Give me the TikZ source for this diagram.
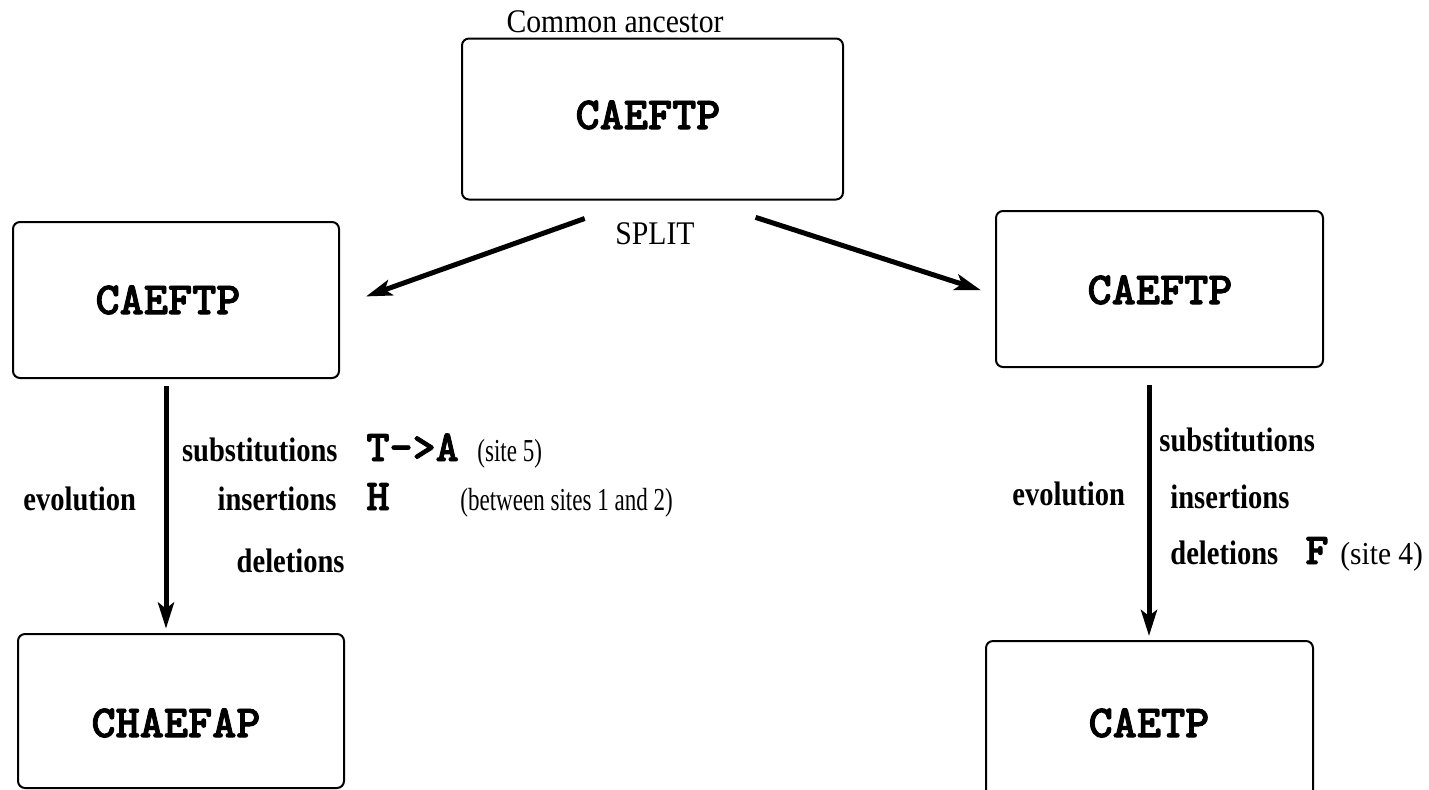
\documentclass[tikz,border=0pt]{standalone}
\usepackage{fontspec}
\setmainfont{Liberation Serif}
\newfontfamily\capfont[FakeStretch=0.9]{Liberation Serif}
\newfontfamily\labfont[FakeStretch=0.84]{Liberation Serif}
\newfontfamily\parfont[FakeStretch=0.72]{Liberation Serif}
\newfontfamily\parwide[FakeStretch=0.92]{Liberation Serif}
\newfontfamily\seqfont[FakeBold=2]{lmmonolt10-bold.otf}
\usetikzlibrary{arrows.meta}
\tikzset{
  box/.style={draw, rounded corners=3.5pt, line width=1pt, inner sep=0pt},
  seqtext/.style={font=\seqfont\fontsize{23}{26}\selectfont, inner sep=0pt},
  seqsmall/.style={font=\seqfont\fontsize{22}{26}\selectfont, inner sep=0pt},
  captext/.style={font=\capfont\fontsize{16.5}{20}\selectfont, inner sep=0pt},
  labtext/.style={font=\labfont\bfseries\fontsize{17}{20}\selectfont, inner sep=0pt},
  partext/.style={font=\parfont\fontsize{16}{20}\selectfont, inner sep=0pt},
  parwtext/.style={font=\parwide\fontsize{16}{20}\selectfont, inner sep=0pt},
  arr/.style={-{Stealth[length=13pt,width=8pt,inset=3pt]}, line width=2.5pt}
}
\begin{document}
\begin{tikzpicture}[x=0.5pt,y=-0.5pt]
\useasboundingbox (0,0) rectangle (1429,789);
% boxes
\node[box, minimum width=190.5pt, minimum height=80.5pt] (top) at (652.5,119) {};
\node[box, minimum width=163pt, minimum height=78pt] (left) at (176,300) {};
\node[box, minimum width=163.5pt, minimum height=78pt] (right) at (1159.5,289) {};
\node[box, minimum width=163pt, minimum height=77pt] (bl) at (181,711) {};
\node[box, minimum width=163.5pt, minimum height=78pt] (br) at (1149.5,719) {};
% box texts
\node[seqtext] (ttop) at (648,115) {CAEFTP};
\node[seqtext] (tleft) at (168,300) {CAEFTP};
\node[seqtext] (tright) at (1160,290) {CAEFTP};
\node[seqtext] (tbl) at (176,723) {CHAEFAP};
\node[seqtext] (tbr) at (1149,723) {CAETP};
% captions
\node[captext] (ca) at (615,22) {Common ancestor};
\node[captext] (split) at (655,234) {SPLIT};
% connectors
\draw[arr, shorten <=26.8pt, shorten >=13.8pt] (top.-102) -- (left.-2);
\draw[arr, shorten <=27.4pt, shorten >=7.4pt] (top.-58) -- (right.182);
\draw[arr, shorten <=3.5pt, shorten >=2.2pt] ([xshift=-5pt]left.south) -- ([xshift=-7.5pt]bl.north);
\draw[arr, shorten <=8.5pt, shorten >=2pt] ([xshift=-5.25pt]right.south) -- ([xshift=-0.25pt]br.north);
% left labels
\node[labtext, anchor=base west] (evl) at (23,510) {evolution};
\node[labtext, anchor=base east] (subl) at (338,461) {substitutions};
\node[labtext, anchor=base east] (insl) at (337,510) {insertions};
\node[labtext, anchor=base east] (dell) at (345,572) {deletions};
\node[seqsmall, anchor=base west] (ta) at (366,461) {T->A};
\node[partext, anchor=base west] (s5) at (477,461) {(site 5)};
\node[seqsmall, anchor=base west] (hh) at (366,510) {H};
\node[partext, anchor=base west] (btw) at (460,510) {(between sites 1 and 2)};
% right labels
\node[labtext, anchor=base west] (evr) at (1012,505) {evolution};
\node[labtext, anchor=base west] (subr) at (1159,451) {substitutions};
\node[labtext, anchor=base west] (insr) at (1170,508) {insertions};
\node[labtext, anchor=base west] (delr) at (1170,564) {deletions};
\node[seqsmall, anchor=base west] (ff) at (1305,564) {F};
\node[parwtext, anchor=base west] (s4) at (1340,564) {(site 4)};
\end{tikzpicture}
\end{document}
